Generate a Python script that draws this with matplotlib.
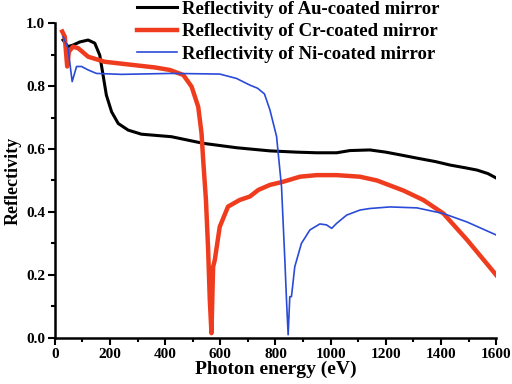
import numpy as np
import matplotlib.pyplot as plt

plt.rcParams['font.family'] = ['Liberation Serif', 'DejaVu Serif']
plt.rcParams['font.weight'] = 'bold'

# Au-coated mirror
au_x = [30, 48, 66, 91, 121, 145, 163, 175, 187, 206, 230, 266, 314, 423, 538, 659, 780, 877,
        949, 1022, 1070, 1142, 1200, 1260, 1313, 1380, 1433, 1490, 1531, 1570, 1600]
au_y = [0.946, 0.925, 0.93, 0.94, 0.946, 0.936, 0.898, 0.835, 0.771, 0.718, 0.681, 0.66, 0.647, 0.639, 0.618, 0.604, 0.594, 0.59,
        0.588, 0.588, 0.595, 0.597, 0.59, 0.58, 0.571, 0.56, 0.549, 0.54, 0.533, 0.522, 0.508]

# Cr-coated mirror
cr_x = [27, 36, 45, 51, 66, 85, 121, 181, 302, 363, 417, 466, 496, 520, 532, 538, 548, 556, 562, 568,
        574, 580, 598, 628, 670, 707, 738, 780, 828, 889, 949, 1022, 1106, 1168, 1264, 1336, 1409, 1495, 1600]
cr_y = [0.973, 0.957, 0.862, 0.909, 0.925, 0.92, 0.893, 0.877, 0.865, 0.859, 0.851, 0.835, 0.798, 0.734, 0.65, 0.565, 0.438, 0.279, 0.12, 0.015,
        0.226, 0.247, 0.353, 0.417, 0.438, 0.449, 0.47, 0.486, 0.496, 0.512, 0.517, 0.517, 0.512, 0.50, 0.468, 0.438, 0.395, 0.311, 0.2]

# Ni-coated mirror
ni_x = [30, 48, 63, 79, 97, 121, 151, 242, 423, 598, 659, 707, 735, 760, 780, 804, 822, 834, 840, 846, 852,
        858, 870, 894, 925, 961, 985, 1004, 1022, 1058, 1106, 1142, 1215, 1313, 1409, 1495, 1600]
ni_y = [0.957, 0.92, 0.814, 0.862, 0.862, 0.851, 0.84, 0.837, 0.84, 0.838, 0.824, 0.803, 0.793, 0.775, 0.724, 0.64, 0.48, 0.248, 0.121, 0.01, 0.131,
        0.131, 0.226, 0.3, 0.343, 0.362, 0.359, 0.348, 0.364, 0.39, 0.406, 0.411, 0.416, 0.413, 0.395, 0.368, 0.327]

fig = plt.figure(figsize=(5.12, 3.84), dpi=100)
ax = fig.add_axes([0.107, 0.12, 0.862, 0.82])

ax.plot(au_x, au_y, color='black', lw=2.2, label='Reflectivity of Au-coated mirror')
ax.plot(cr_x, cr_y, color='#f03c1e', lw=3.2, label='Reflectivity of Cr-coated mirror')
ax.plot(ni_x, ni_y, color='#2a4bd7', lw=1.2, label='Reflectivity of Ni-coated mirror')

ax.set_xlim(0, 1600)
ax.set_ylim(0, 1.0)
ax.set_xticks(np.arange(0, 1601, 200))
ax.set_xticks(np.arange(100, 1600, 200), minor=True)
ax.set_yticks(np.arange(0, 1.01, 0.2))
ax.set_yticks(np.arange(0.1, 1.0, 0.2), minor=True)
ax.yaxis.set_major_formatter(plt.FormatStrFormatter('%.1f'))
ax.tick_params(labelsize=11, width=1.5, length=5, pad=2)
ax.tick_params(which='minor', width=1.5, length=3)
for s in ['top', 'right']:
    ax.spines[s].set_visible(False)
for s in ['left', 'bottom']:
    ax.spines[s].set_linewidth(1.8)

ax.set_xlabel('Photon energy (eV)', fontsize=14, fontweight='bold', labelpad=0)
ax.set_ylabel('Reflectivity', fontsize=13, fontweight='bold', labelpad=3)

ax.legend(loc='upper left', bbox_to_anchor=(0.17, 1.095), frameon=False, fontsize=13.5,
          handlelength=2.1, labelspacing=0.28, handletextpad=0.3, borderaxespad=0)

plt.savefig('out.png', dpi=100)
